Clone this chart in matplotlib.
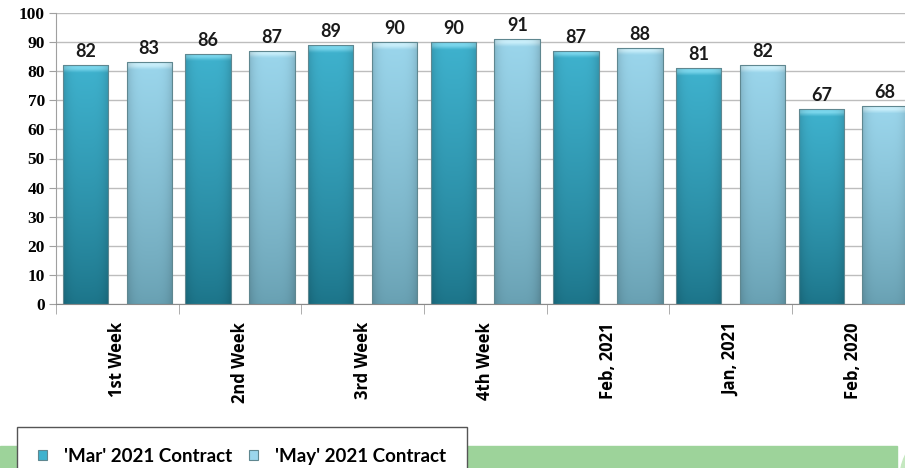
import numpy as np
import matplotlib
matplotlib.use('Agg')
import matplotlib.pyplot as plt
from matplotlib.patches import Rectangle, Ellipse
from matplotlib.colors import to_rgb

# data
categories = ['1st Week', '2nd Week', '3rd Week', '4th Week', 'Feb, 2021', 'Jan, 2021', 'Feb, 2020']
mar_2021 = [82, 86, 89, 90, 87, 81, 67]
may_2021 = [83, 87, 90, 91, 88, 82, 68]
series_names = ["'Mar' 2021 Contract", "'May' 2021 Contract"]

# colours: (bottom, top, highlight)
dark = ('#1c7489', '#3fb2ce', '#7ad6ec')
light = ('#68a0b2', '#9bd6ec', '#c8eefa')

W, H = 905, 468
fig = plt.figure(figsize=(W / 100, H / 100), dpi=100)
ax = fig.add_axes([56 / W, 1 - 304 / H, (914.6 - 56) / W, (304 - 13) / H])


def grad_bar(ax, x, h, width, cols):
    bar = ax.bar(x, h, width, color='none', edgecolor='#5f8790', lw=0.8, zorder=3)[0]
    c0, c1, ch = [np.array(to_rgb(c)) for c in cols]
    ny, nx = 200, 40
    v = np.linspace(0, 1, ny)[:, None]  # 0 bottom -> 1 top
    img = c0 + (c1 - c0) * v[..., None] ** 0.8
    # bevel highlight near top
    top_px = h * 2.91  # pixel height of the bar
    hl = np.clip((v * top_px - (top_px - 7)) / 4, 0, 1)
    img = img * (1 - hl[..., None]) + ch * hl[..., None]
    u = np.linspace(-1, 1, nx)[None, :]
    shade = 1 - 0.14 * np.abs(u) ** 4
    img = img * shade[..., None]
    im = ax.imshow(np.clip(img, 0, 1), extent=[x - width / 2, x + width / 2, 0, h],
                   origin='lower', aspect='auto', zorder=2, interpolation='bilinear')
    im.set_clip_path(bar)


x = np.arange(len(categories))
off, bw = 0.26, 0.37
lab_font = ['Lato', 'DejaVu Sans']
for i in range(len(categories)):
    for dx, vals, cols in ((-off, mar_2021, dark), (off, may_2021, light)):
        grad_bar(ax, x[i] + dx, vals[i], bw, cols)
        ax.text(x[i] + dx, vals[i] + 1.8, str(vals[i]), ha='center', va='bottom',
                fontsize=13, fontweight='bold', family=lab_font, color='#1a1a1a', zorder=4)

ax.set_xlim(-0.5, len(categories) - 0.5)
ax.set_ylim(0, 100)
ax.set_yticks(range(0, 101, 10))
ax.set_yticklabels([str(v) for v in range(0, 101, 10)], family=['Liberation Serif'],
                   fontweight='bold', fontsize=12.5)
ax.yaxis.grid(True, color='#bdbdbd', lw=1)
ax.set_axisbelow(True)
for s in ('top', 'right'):
    ax.spines[s].set_visible(False)
ax.spines['left'].set_color('#a0a0a0')
ax.spines['bottom'].set_color('#8a8a8a')
ax.tick_params(axis='y', length=5, color='#a0a0a0', pad=3)

ax.set_xticks(x)
ax.set_xticklabels(categories, rotation=90, fontsize=12, fontweight='bold',
                   family=['Open Sans', 'DejaVu Sans'])
ax.tick_params(axis='x', length=0, pad=13)
ax.set_xticks(np.arange(-0.5, len(categories)), minor=True)
ax.tick_params(axis='x', which='minor', length=7, color='#a0a0a0')

# green band at the bottom
fig.patches.append(Rectangle((0, 0), 897 / W, (H - 446) / H, transform=fig.transFigure,
                             color='#9dd39a', zorder=0))
fig.patches.append(Ellipse((960 / W, -10 / H), 120 / W, 110 / H, transform=fig.transFigure,
                           color='#c5e8c0', zorder=0))

# legend
handles = [Rectangle((0, 0), 1, 1, facecolor=dark[1], edgecolor='#5f8790', lw=0.8),
           Rectangle((0, 0), 1, 1, facecolor=light[1], edgecolor='#5f8790', lw=0.8)]
leg = fig.legend(handles, series_names, loc='upper left', bbox_to_anchor=(17 / W, 1 - 427 / H),
                 ncol=2, frameon=True, fancybox=False, borderpad=1.1, borderaxespad=0,
                 handlelength=0.5, handleheight=0.5, handletextpad=0.9, columnspacing=0.9,
                 prop={'family': lab_font, 'weight': 'bold', 'size': 13.5})
leg.get_frame().set_edgecolor('#555555')
leg.get_frame().set_linewidth(1)
leg.get_frame().set_facecolor('white')
leg.get_frame().set_alpha(1)
leg.set_zorder(5)

fig.savefig('out.png', dpi=100)
